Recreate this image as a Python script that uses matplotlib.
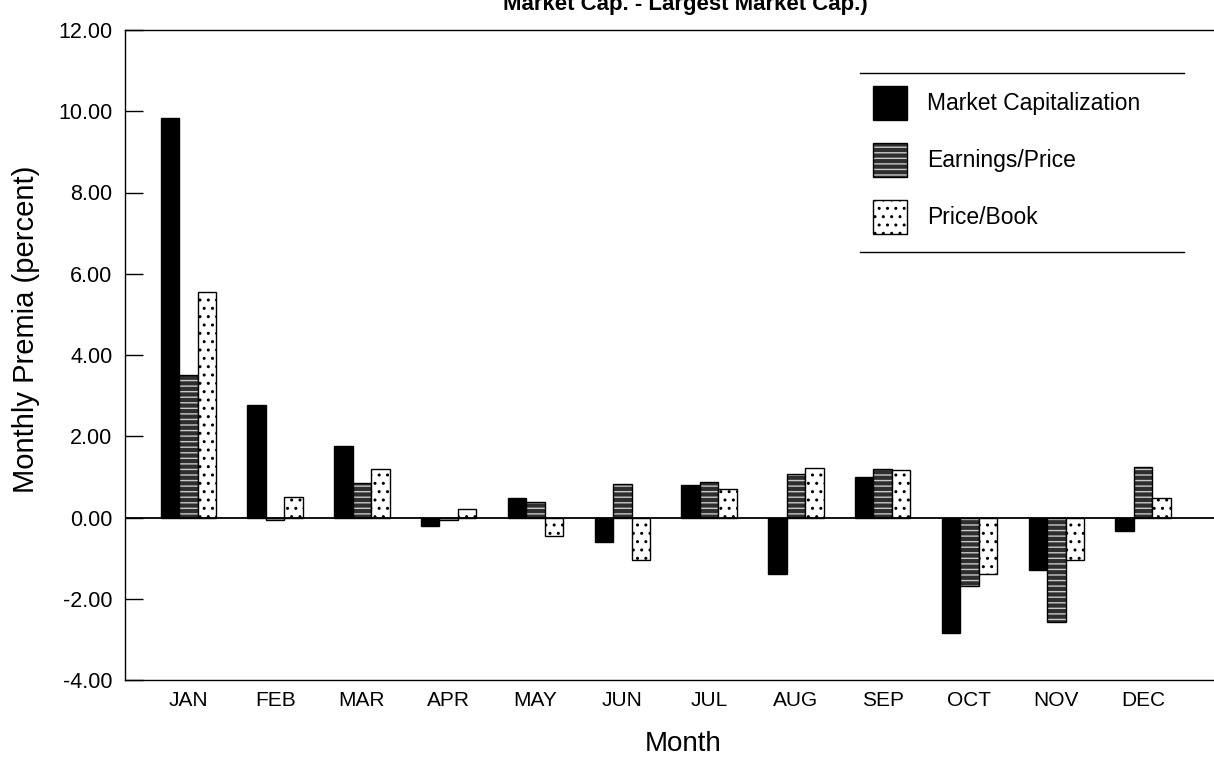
import numpy as np
import matplotlib
matplotlib.use("Agg")
import matplotlib.pyplot as plt
from matplotlib.patches import Patch
from matplotlib.lines import Line2D
from matplotlib.legend_handler import HandlerTuple

plt.rcParams['font.family'] = ['Liberation Sans', 'DejaVu Sans']

months = ['JAN', 'FEB', 'MAR', 'APR', 'MAY', 'JUN',
          'JUL', 'AUG', 'SEP', 'OCT', 'NOV', 'DEC']
market_cap = [9.84, 2.77, 1.76, -0.22, 0.47, -0.60,
              0.79, -1.40, 1.00, -2.85, -1.30, -0.32]
earnings_price = [3.50, -0.05, 0.84, -0.05, 0.37, 0.83,
                  0.87, 1.08, 1.20, -1.68, -2.58, 1.25]
price_book = [5.54, 0.51, 1.20, 0.20, -0.46, -1.05,
              0.70, 1.22, 1.17, -1.40, -1.04, 0.47]
series_names = ['Market Capitalization', 'Earnings/Price', 'Price/Book']
y_ticks = [12, 10, 8, 6, 4, 2, 0, -2, -4]

W, H = 1214, 764
fig = plt.figure(figsize=(W / 100, H / 100), dpi=100)
# axes: left spine at x=125, right edge runs off the page like the scan
left, right = 125, 1242
top, bottom = 30, 680
ax = fig.add_axes([left / W, 1 - bottom / H, (right - left) / W, (bottom - top) / H])

x = np.arange(len(months))
bw = 0.213
ep_face, ep_hatch = '#2e2e2e', '#c8c8c8'

ax.bar(x - bw, market_cap, bw, color='black', edgecolor='black', linewidth=1.0)

# earnings/price: dark fill with light horizontal streaks
ax.bar(x, earnings_price, bw, color=ep_face, edgecolor=ep_hatch,
       hatch='---', linewidth=0)
ax.bar(x, earnings_price, bw, fill=False, edgecolor='black', linewidth=1.0)

# price/book: white with black dots
ax.bar(x + bw, price_book, bw, color='white', edgecolor='black',
       hatch='..', linewidth=1.0)

ax.axhline(0, color='black', linewidth=1.3, zorder=3)

ax.set_xlim(-0.73, 12.14)
ax.set_ylim(-4, 12)
ax.set_yticks(y_ticks)
ax.set_yticklabels([f'{v:.2f}' for v in y_ticks], fontsize=15.5)
ax.tick_params(axis='y', direction='in', length=13, width=1.0, pad=9)
ax.set_xticks(x)
ax.set_xticklabels(months, fontsize=15)
ax.tick_params(axis='x', length=0, pad=8)

ax.spines['right'].set_visible(False)
for s in ['left', 'top', 'bottom']:
    ax.spines[s].set_linewidth(1.0)

ax.set_ylabel('Monthly Premia (percent)', fontsize=21)
ax.yaxis.set_label_coords(-0.076, 0.54)
ax.set_xlabel('Month', fontsize=20, labelpad=15)

# legend, framed only by a rule above and below
ep_handle = (Patch(facecolor=ep_face, edgecolor=ep_hatch, hatch='---', linewidth=0),
             Patch(fill=False, edgecolor='black', linewidth=1.0))
handles = [Patch(facecolor='black', edgecolor='black'),
           ep_handle,
           Patch(facecolor='white', edgecolor='black', hatch='..')]
leg = fig.legend(handles, series_names, loc='upper left',
                 bbox_to_anchor=(873 / W, 1 - 86 / H), frameon=False,
                 fontsize=16.5, handlelength=1.5, handleheight=1.9,
                 labelspacing=1.0, handletextpad=0.85, borderpad=0,
                 borderaxespad=0,
                 handler_map={tuple: HandlerTuple(ndivide=1, pad=0)})
for yy in [73, 252]:
    fig.add_artist(Line2D([860 / W, 1184 / W], [1 - yy / H, 1 - yy / H],
                          color='black', linewidth=1.0))

# title, clipped at the top of the page as in the scan
fig.text(503 / W, 1 - 10 / H, 'Market Cap. - Largest Market Cap.)',
         fontsize=16, fontweight='bold', ha='left', va='baseline')

fig.savefig('out.png', dpi=100)
